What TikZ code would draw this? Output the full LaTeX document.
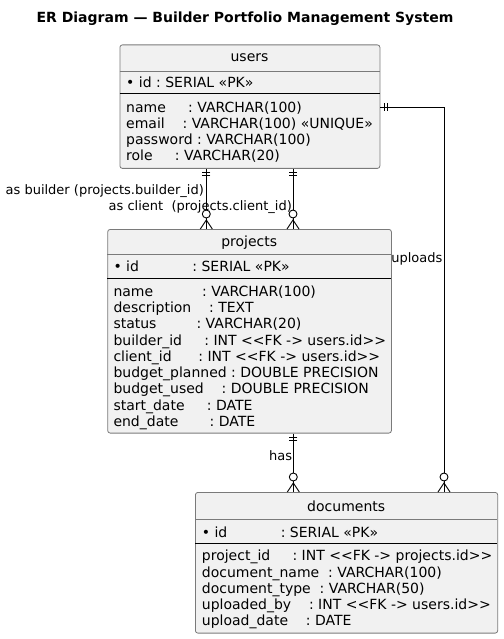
\documentclass[tikz,border=0pt]{standalone}
\usepackage{fontspec}
\setmainfont{DejaVu Sans}

\definecolor{boxfill}{HTML}{F1F1F1}
\definecolor{boxline}{HTML}{7A7A7A}

\begin{document}
\begin{tikzpicture}[x=1pt,y=-1pt,
    tbl/.style={draw=boxline,fill=boxfill,rounded corners=2.5pt,line width=0.8pt,anchor=north west,inner sep=0pt},
    hdr/.style={font=\fontsize{14}{16}\selectfont,inner sep=0pt,anchor=base},
    row/.style={font=\fontsize{14}{16}\selectfont,inner sep=0pt,anchor=base west},
    lbl/.style={font=\fontsize{13}{15}\selectfont,inner sep=0pt,anchor=base east},
    sepg/.style={draw=boxline,line width=0.8pt},
    sepk/.style={draw=black,line width=1pt},
    rel/.style={line width=0.9pt},
    onemark/.pic={\draw[rel] (4,-4) -- (4,4) (7,-4) -- (7,4);},
    manymark/.pic={\draw[rel] (0,-6) -- (9,0) -- (0,6);
                   \draw[rel,fill=white] (15,0) circle (4pt);}]
        \useasboundingbox (0,0) rectangle (503,639);
        \node[font=\bfseries\fontsize{14}{16}\selectfont,anchor=base] (title) at (245,22.7) {ER Diagram — Builder Portfolio Management System};

        % users
        \node[tbl,minimum width=260pt,minimum height=123.5pt] (users) at (119.5,44.5) {};
        \node[hdr] (usersH) at (249.5,62) {users};
        \draw[sepg] (119.5,71.5) -- (379.5,71.5);
        \node[row] (usersPK) at (126,88) {•~id~:~SERIAL~«PK»};
        \draw[sepk] (119.5,93.5) -- (379.5,93.5);
        \foreach \t [count=\i from 0] in {{name~~~~~:~VARCHAR(100)},{email~~~~:~VARCHAR(100)~«UNIQUE»},
            {password~:~VARCHAR(100)},{role~~~~~:~VARCHAR(20)}}
            \node[row] (users-\i) at (126,{112.2+16.25*\i}) {\t};

        % projects
        \node[tbl,minimum width=283.7pt,minimum height=203.7pt] (projects) at (107.3,229) {};
        \node[hdr] (projectsH) at (249.2,246) {projects};
        \draw[sepg] (107.3,254.3) -- (391,254.3);
        \node[row] (projectsPK) at (113.3,271.5) {•~id~~~~~~~~~~~~:~SERIAL~«PK»};
        \draw[sepk] (107.3,278.3) -- (391,278.3);
        \foreach \t [count=\i from 0] in {{name~~~~~~~~~~~:~VARCHAR(100)},{description~~~~:~TEXT},
            {status~~~~~~~~~:~VARCHAR(20)},{builder\_id~~~~~:~INT~<{}<FK~->~users.id>{}>},
            {client\_id~~~~~~:~INT~<{}<FK~->~users.id>{}>},{budget\_planned~:~DOUBLE~PRECISION},
            {budget\_used~~~~:~DOUBLE~PRECISION},{start\_date~~~~~:~DATE},{end\_date~~~~~~~:~DATE}}
            \node[row] (projects-\i) at (113.3,{296.3+16.25*\i}) {\t};

        % documents
        \node[tbl,minimum width=302.3pt,minimum height=140.7pt] (documents) at (195,492) {};
        \node[hdr] (documentsH) at (346.2,511.5) {documents};
        \draw[sepg] (195,519.3) -- (497.3,519.3);
        \node[row] (documentsPK) at (201.7,537.5) {•~id~~~~~~~~~~~~:~SERIAL~«PK»};
        \draw[sepk] (195,543.3) -- (497.3,543.3);
        \foreach \t [count=\i from 0] in {{project\_id~~~~~:~INT~<{}<FK~->~projects.id>{}>},
            {document\_name~~:~VARCHAR(100)},{document\_type~~:~VARCHAR(50)},
            {uploaded\_by~~~~:~INT~<{}<FK~->~users.id>{}>},{upload\_date~~~~:~DATE}}
            \node[row] (documents-\i) at (201.7,{560.8+16.25*\i}) {\t};

        % relations
        \draw[rel] (users.south -| 206.3,0) coordinate (bA) -- (projects.north -| 206.3,0) coordinate (bB);
        \draw[rel] (users.south -| 293,0) coordinate (cA) -- (projects.north -| 293,0) coordinate (cB);
        \draw[rel] (users.east |- 0,107) coordinate (uA) -| (documents.north -| 444,0) coordinate (uB);
        \draw[rel] (projects.south -| 293.3,0) coordinate (hA) -- (documents.north -| 293.3,0) coordinate (hB);
        \pic[rotate=-90] at (bA) {onemark};
        \pic[rotate=90] at (bB) {manymark};
        \pic[rotate=-90] at (cA) {onemark};
        \pic[rotate=90] at (cB) {manymark};
        \pic at (uA) {onemark};
        \pic[rotate=90] at (uB) {manymark};
        \pic[rotate=-90] at (hA) {onemark};
        \pic[rotate=90] at (hB) {manymark};

        \node[lbl] (lblBuilder) at (204,194.5) {as builder (projects.builder\_id)};
        \node[lbl] (lblClient) at (292,210) {as client~~(projects.client\_id)};
        \node[lbl] (lblUploads) at (442.5,262.7) {uploads};
        \node[lbl] (lblHas) at (292.3,460.7) {has};
\end{tikzpicture}
\end{document}
